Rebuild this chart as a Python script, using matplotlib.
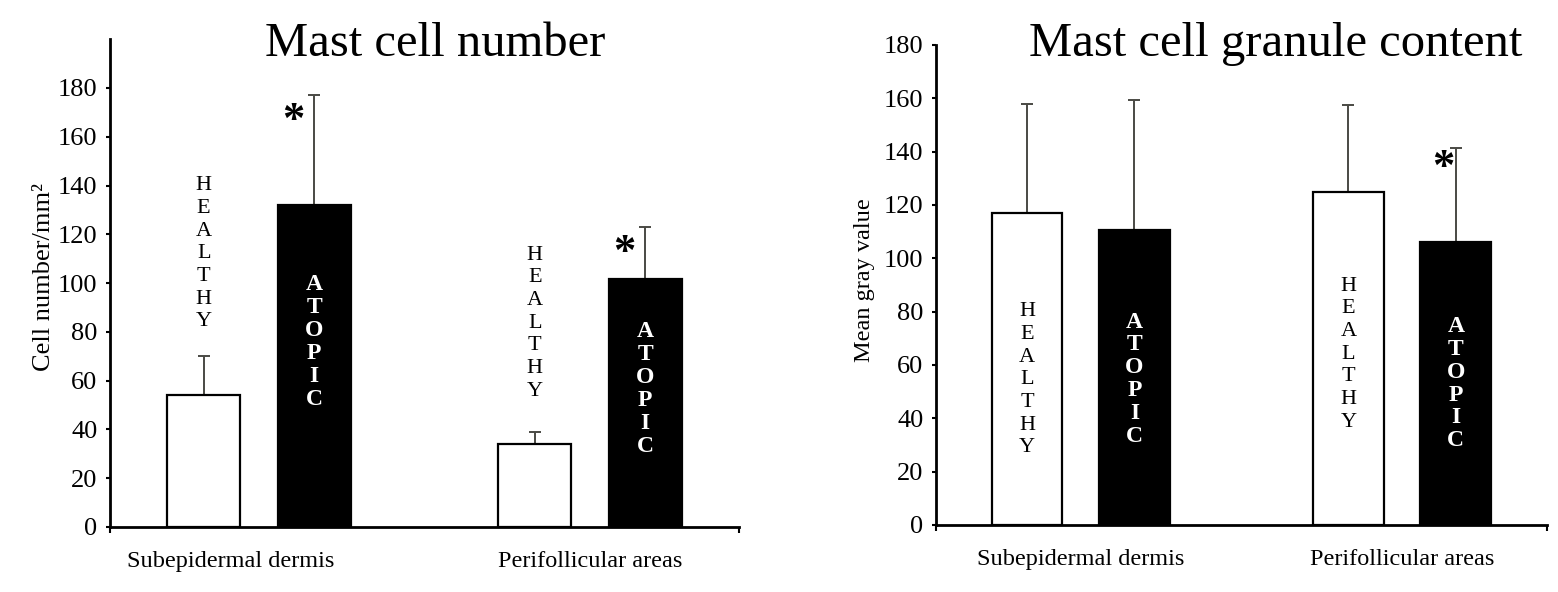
import numpy as np
import matplotlib
matplotlib.use('Agg')
import matplotlib.pyplot as plt

plt.rcParams['font.family'] = ['Liberation Serif', 'DejaVu Serif']

# data
groups = ['Subepidermal dermis', 'Perifollicular areas']

number_healthy = [54, 34]
number_healthy_err = [16, 5]
number_atopic = [132, 101.5]
number_atopic_err = [45, 21.5]
number_star = [170, 116]          # y of the asterisks above the atopic bars

gray_healthy = [117, 125]
gray_healthy_err = [41, 32.5]
gray_atopic = [110.5, 106]
gray_atopic_err = [49, 35.5]
gray_star = [None, 136.5]

# where the vertical word labels sit (y centre, data units)
number_healthy_word = [112, 83.6]
number_atopic_word = [75.8, 56.6]
gray_healthy_word = [54.4, 64]
gray_atopic_word = [54.6, 53]

W = 0.22
OFF = 0.167


def panel(ax, healthy, herr, atopic, aerr, stars, hword, aword, ylim, ylabel,
          ylabsize, star_dx, label_shift, star_dy):
    x = np.arange(len(groups))
    ax.bar(x - OFF, healthy, W, color='white', edgecolor='black', linewidth=1.6, zorder=2)
    ax.bar(x + OFF, atopic, W, color='black', edgecolor='black', linewidth=1.6, zorder=2)
    ekw = dict(fmt='none', ecolor='#4a4a44', elinewidth=1.4, capsize=4.3, capthick=1.4, zorder=1)
    ax.errorbar(x - OFF, healthy, yerr=[np.zeros(len(herr)), herr], **ekw)
    ax.errorbar(x + OFF, atopic, yerr=[np.zeros(len(aerr)), aerr], **ekw)

    for i in range(len(groups)):
        ax.text(x[i] - OFF, hword[i], '\n'.join('HEALTHY'), ha='center', va='center',
                fontsize=16, linespacing=1.26, color='black', zorder=3)
        ax.text(x[i] + OFF, aword[i], '\n'.join('ATOPIC'), ha='center', va='center',
                fontsize=17, fontweight='bold', linespacing=1.12, color='white', zorder=3)
        if stars[i] is not None:
            ax.text(x[i] + OFF + star_dx, stars[i] - star_dy, '*', ha='center', va='center',
                    fontsize=32, fontweight='bold')

    ax.set_xlim(-0.45, 1.45)
    ax.set_ylim(*ylim)
    ax.set_yticks(np.arange(0, 181, 20))
    ax.tick_params(axis='y', labelsize=19, length=3, width=1.5, direction='out', pad=6)
    ax.set_xticks(x + np.array(label_shift))
    ax.set_xticklabels(groups, fontsize=17.5)
    ax.tick_params(axis='x', length=0, pad=17)
    ax.set_xticks([-0.45, 1.45], minor=True)
    ax.tick_params(axis='x', which='minor', length=4, width=1.5, direction='out')
    for s in ['top', 'right']:
        ax.spines[s].set_visible(False)
    for s in ['left', 'bottom']:
        ax.spines[s].set_linewidth(2)
    ax.set_ylabel(ylabel, fontsize=ylabsize, labelpad=4)


fig = plt.figure(figsize=(15.58, 5.92), dpi=100)

ax1 = fig.add_axes([0.0706, 0.1098, 0.4037, 0.824])
panel(ax1, number_healthy, number_healthy_err, number_atopic, number_atopic_err,
      number_star, number_healthy_word, number_atopic_word, (0, 200),
      'Cell number/mm²', 19, -0.064, [-0.085, 0], 3.5)
ax1.yaxis.set_label_coords(-0.088, 0.512)
ax1.text(0.517, 0.965, 'Mast cell number', transform=ax1.transAxes, ha='center',
         va='baseline', fontsize=35)

ax2 = fig.add_axes([0.6008, 0.1132, 0.392, 0.811])
panel(ax2, gray_healthy, gray_healthy_err, gray_atopic, gray_atopic_err,
      gray_star, gray_healthy_word, gray_atopic_word, (0, 180),
      'Mean gray value', 17.5, -0.04, [0, 0], 2.8)
ax2.yaxis.set_label_coords(-0.10, 0.51)
ax2.text(0.556, 0.977, 'Mast cell granule content', transform=ax2.transAxes, ha='center',
         va='baseline', fontsize=35)

fig.savefig('out.png', dpi=100)
